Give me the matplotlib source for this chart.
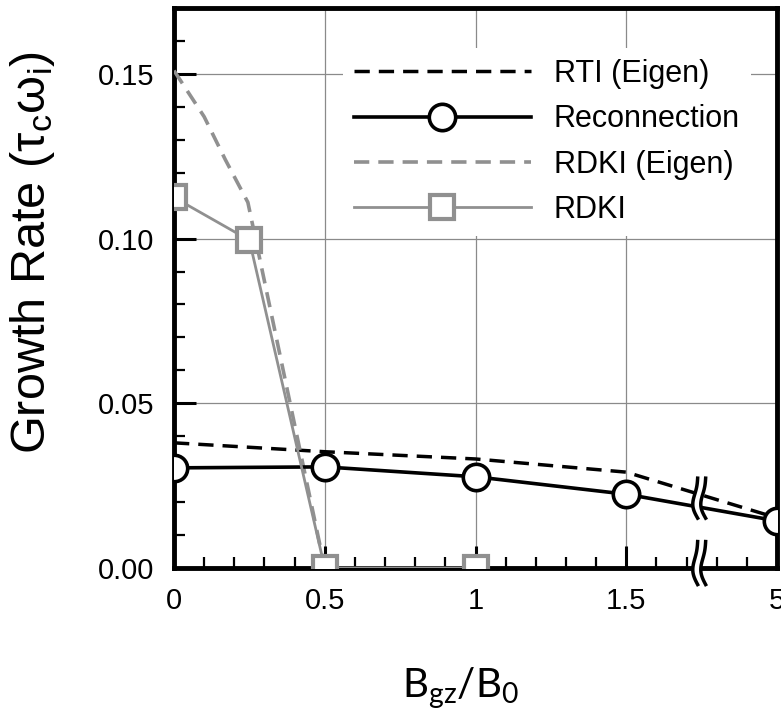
import numpy as np
import matplotlib
matplotlib.use("Agg")
import matplotlib.pyplot as plt
from matplotlib.ticker import MultipleLocator, FixedLocator, FixedFormatter
from matplotlib.transforms import IdentityTransform

plt.rcParams['font.family'] = 'Liberation Sans'
plt.rcParams['lines.scale_dashes'] = False

# ------------------------------------------------------------------
# Data (B_gz/B_0 = 5 is drawn at position 2, after the axis break)
# ------------------------------------------------------------------
rti_x = [0.0, 0.5, 1.0, 1.5, 2.0]
rti_y = [0.0380, 0.0353, 0.0331, 0.0291, 0.0152]

rec_x = [0.0, 0.5, 1.0, 1.5, 2.0]
rec_y = [0.0304, 0.0307, 0.0277, 0.0224, 0.0143]

rdki_eig_x = [0.0, 0.05, 0.10, 0.17, 0.245, 0.5]
rdki_eig_y = [0.151, 0.144, 0.137, 0.124, 0.111, 0.0]

rdki_x = [0.0, 0.25, 0.5, 1.0]
rdki_y = [0.1125, 0.0995, 0.0, 0.0]

xtick_pos = [0, 0.5, 1, 1.5, 2]
xtick_lab = ['0', '0.5', '1', '1.5', '5']
ytick_pos = [0.00, 0.05, 0.10, 0.15]
ytick_lab = ['0.00', '0.05', '0.10', '0.15']

x_break = 1.75
GRAY = '#909090'

# ------------------------------------------------------------------
# Figure
# ------------------------------------------------------------------
fig = plt.figure(figsize=(7.81, 7.16), dpi=100)
ax = fig.add_axes([0.2228, 0.2067, 0.7721, 0.7821])
ax.set_xlim(0, 2)
ax.set_ylim(0, 0.17)

ax.plot(rti_x, rti_y, color='black', lw=2.5, dashes=(11, 6.5),
        label='RTI (Eigen)', zorder=3)
ax.plot(rec_x, rec_y, color='black', lw=2.6, marker='o', ms=19,
        mfc='white', mec='black', mew=2.6, label='Reconnection', zorder=4)
ax.plot(rdki_eig_x, rdki_eig_y, color=GRAY, lw=2.6, dashes=(11, 6.5),
        label='RDKI (Eigen)', zorder=3)
ax.plot(rdki_x, rdki_y, color=GRAY, lw=2.0, marker='s', ms=17,
        mfc='white', mec=GRAY, mew=3, label='RDKI', zorder=4)

# axes styling
for sp in ax.spines.values():
    sp.set_linewidth(3.5)
ax.xaxis.set_major_locator(FixedLocator(xtick_pos))
ax.xaxis.set_major_formatter(FixedFormatter(xtick_lab))
ax.xaxis.set_minor_locator(MultipleLocator(0.1))
ax.yaxis.set_major_locator(FixedLocator(ytick_pos))
ax.yaxis.set_major_formatter(FixedFormatter(ytick_lab))
ax.yaxis.set_minor_locator(MultipleLocator(0.01))
ax.tick_params(which='major', direction='in', length=16, width=2.2,
               labelsize=21, pad=14)
ax.tick_params(which='minor', direction='in', length=8, width=1.6)
ax.grid(which='major', color='#8a8a8a', lw=0.9)

leg = ax.legend(loc='upper left', bbox_to_anchor=(0.28, 0.928), fontsize=22,
                frameon=True, fancybox=False, edgecolor='none',
                facecolor='white', framealpha=1, borderpad=0.35,
                borderaxespad=0, handlelength=5.8, handletextpad=0.75,
                labelspacing=0.5)
leg.set_zorder(6)


# axis-break marks
def break_mark(xd, yd, height_px, gap_px=8, amp_px=4):
    cx, cy = ax.transData.transform((xd, yd))
    t = np.linspace(-1, 1, 60)
    dy = cy + t * height_px / 2
    dx = -amp_px * np.cos(np.pi * t / 2) + 0.4 * amp_px * np.sin(np.pi * t)
    xl = cx - gap_px / 2 + dx
    xr = cx + gap_px / 2 + dx
    ax.fill(np.r_[xl, xr[::-1]], np.r_[dy, dy[::-1]], color='white',
            transform=IdentityTransform(), clip_on=False, zorder=7, lw=0)
    for xs in (xl, xr):
        ax.plot(xs, dy, color='black', lw=2.5, transform=IdentityTransform(),
                clip_on=False, zorder=8)


break_mark(x_break, 0.0212, 40)
break_mark(x_break, 0.0015, 43)

fig.text(33 / 781, 1 - 252 / 716,
         r'Growth Rate ($\mathregular{\tau_c\omega_i}$)',
         rotation=90, ha='center', va='center', fontsize=35)
fig.text(460 / 781, 1 - 698 / 716, r'$\mathregular{B_{gz}/B_0}$',
         family='Lato', fontsize=29, ha='center', va='baseline')

fig.savefig('out.png', dpi=100)
